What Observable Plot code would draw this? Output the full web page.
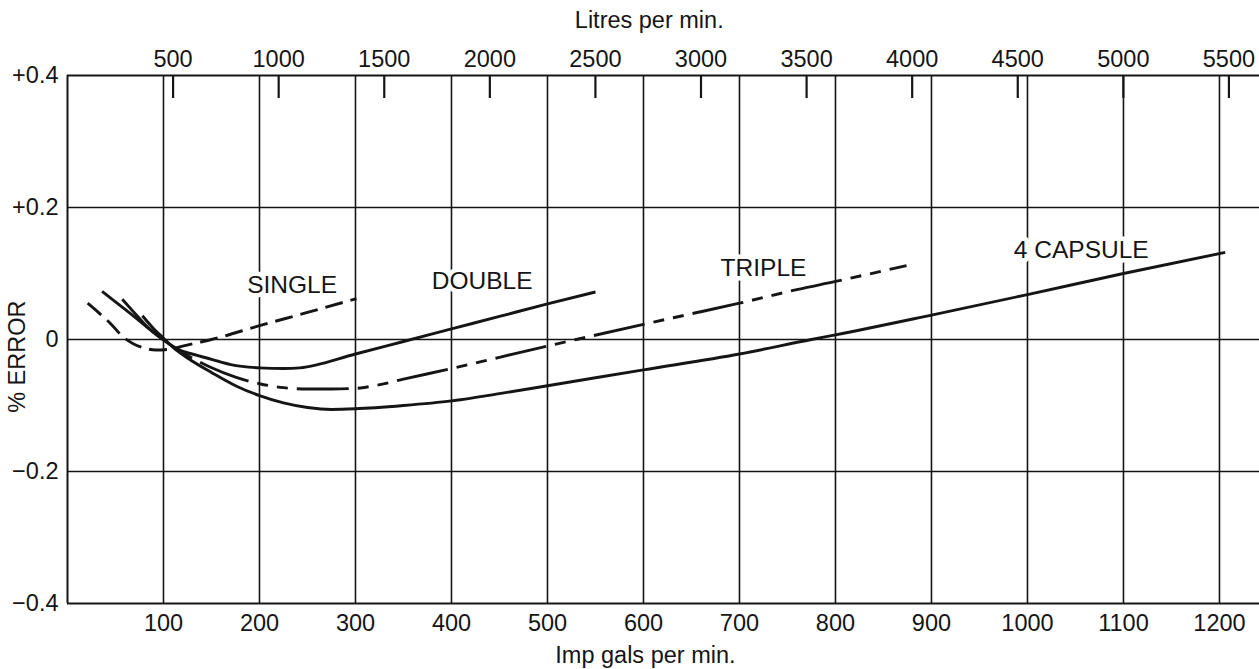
<!DOCTYPE html>
<html><head><meta charset="utf-8">
<script src="https://cdn.jsdelivr.net/npm/d3@7"></script>
<script src="https://cdn.jsdelivr.net/npm/@observablehq/plot@0.6"></script>
<style>body{margin:0;background:#fff;} svg{display:block}</style>
</head><body><div id="chart"></div>
<script>
// Flow in Imp gals per min. vs % error
const singleGal = [21, 33, 45, 57, 68, 80, 92, 105, 120, 135, 150, 200, 250, 301];
const singleErr = [0.055, 0.040, 0.024, 0.005, -0.006, -0.013, -0.016, -0.015, -0.010, -0.005, 0.0, 0.021, 0.041, 0.062];

const doubleGal = [36, 50, 65, 80, 100, 117, 135, 150, 170, 200, 225, 242, 300, 350, 400, 450, 500, 550];
const doubleErr = [0.073, 0.057, 0.040, 0.022, -0.001, -0.016, -0.024, -0.030, -0.038, -0.043, -0.044, -0.043, -0.022, -0.003, 0.016, 0.035, 0.054, 0.072];

const tripleGal = [57, 70, 84, 100, 115, 131, 149, 175, 200, 225, 250, 275, 300, 320, 350, 400, 450, 500, 530, 600, 650, 700, 761, 800, 874];
const tripleErr = [0.061, 0.040, 0.018, 0.0, -0.016, -0.029, -0.042, -0.057, -0.067, -0.073, -0.075, -0.075, -0.074, -0.070, -0.060, -0.044, -0.027, -0.010, 0.0, 0.023, 0.039, 0.055, 0.076, 0.088, 0.112];

const capsGal = [78, 90, 100, 110, 125, 150, 175, 200, 225, 250, 275, 300, 350, 400, 450, 500, 550, 600, 700, 775, 800, 900, 1000, 1100, 1206];
const capsErr = [0.036, 0.016, 0.002, -0.012, -0.028, -0.050, -0.070, -0.085, -0.096, -0.103, -0.106, -0.105, -0.100, -0.093, -0.082, -0.070, -0.058, -0.046, -0.022, 0.0, 0.007, 0.037, 0.068, 0.100, 0.132];

const labelText = ["SINGLE", "DOUBLE", "TRIPLE", "4 CAPSULE"];
const labelGal = [234, 432, 725, 1056];
const labelErr = [0.083, 0.088, 0.108, 0.135];

const galTicks = [100, 200, 300, 400, 500, 600, 700, 800, 900, 1000, 1100, 1200];
const litreTicks = [500, 1000, 1500, 2000, 2500, 3000, 3500, 4000, 4500, 5000, 5500];
const errTicks = [-0.4, -0.2, 0, 0.2, 0.4];
const LITRES_PER_GAL = 4.546;

const rows = (gal, err) => gal.map((g, i) => ({gal: g, err: err[i]}));
const labels = labelText.map((t, i) => ({text: t, gal: labelGal[i], err: labelErr[i]}));

const ink = "#151515";
const fmtErr = d => d > 0 ? "+" + d.toFixed(1) : d < 0 ? "\u2212" + Math.abs(d).toFixed(1) : "0";
const lineOpts = {x: "gal", y: "err", stroke: ink, strokeWidth: 2.9, curve: "monotone-x", strokeLinecap: "butt"};
const FS = 23.5;

const chart = Plot.plot({
  width: 1259, height: 669,
  marginLeft: 67, marginRight: 0, marginTop: 75, marginBottom: 66,
  x: {domain: [0, 1241.7]},
  y: {domain: [-0.4, 0.4]},
  style: {fontFamily: "'Liberation Sans', Arial, Helvetica, sans-serif", fontSize: FS + "px", color: ink, background: "white"},
  marks: [
    Plot.ruleX(galTicks, {stroke: ink, strokeWidth: 1.6}),
    Plot.ruleY([-0.2, 0, 0.2], {stroke: ink, strokeWidth: 1.6}),
    Plot.ruleY([-0.4, 0.4], {stroke: ink, strokeWidth: 2}),
    Plot.ruleX([0], {stroke: ink, strokeWidth: 2}),
    Plot.ruleX(litreTicks, {x: d => d / LITRES_PER_GAL, y1: 0.4, y2: 0.4 - 23 / 660, stroke: ink, strokeWidth: 2.2}),
    Plot.text(labels, {x: "gal", y: "err", text: "text", fill: ink, stroke: "white", strokeWidth: 9, fontSize: 24.5}),
    Plot.line(rows(singleGal, singleErr), {...lineOpts, strokeDasharray: "18,8"}),
    Plot.line(rows(doubleGal, doubleErr), lineOpts),
    Plot.line(rows(tripleGal, tripleErr), {...lineOpts, strokeDasharray: "52,9,11,9,11,9"}),
    Plot.line(rows(capsGal, capsErr), lineOpts),
    Plot.axisX(galTicks, {anchor: "bottom", tickSize: 0, tickPadding: 11, label: null, fontSize: FS, tickFormat: d => String(d)}),
    Plot.axisX(litreTicks.map(l => l / LITRES_PER_GAL), {anchor: "top", tickSize: 0, tickPadding: 9, label: null, fontSize: FS,
      tickFormat: d => String(Math.round(d * LITRES_PER_GAL))}),
    Plot.axisY(errTicks, {anchor: "left", tickSize: 0, tickPadding: 9, label: null, fontSize: FS, tickFormat: fmtErr}),
    Plot.text(["Litres per min."], {x: 606, y: 0.4, dy: -55, text: d => d, fill: ink, fontSize: FS}),
    Plot.text(["Imp gals per min."], {x: 602, y: -0.4, dy: 52, text: d => d, fill: ink, fontSize: FS}),
    Plot.text(["% ERROR"], {x: -52, y: -0.026, rotate: -90, textAnchor: "middle", text: d => d, fill: ink, fontSize: FS})
  ]
});
document.getElementById("chart").append(chart);
</script>
</body></html>
